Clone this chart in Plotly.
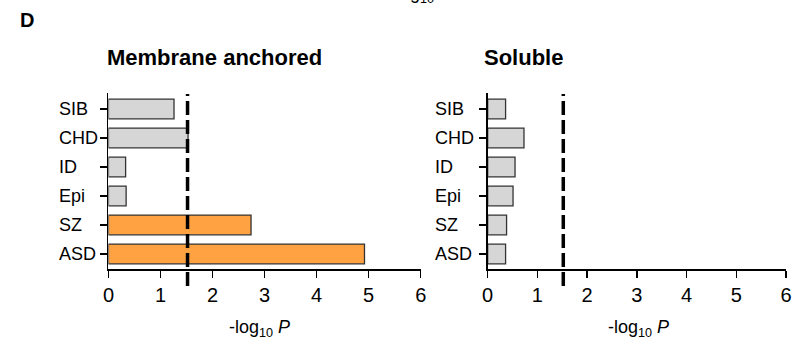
import plotly.graph_objects as go

W, H = 801, 348

categories = ["ASD", "SZ", "Epi", "ID", "CHD", "SIB"]
membrane_values = [4.92, 2.74, 0.34, 0.33, 1.53, 1.26]
membrane_colors = ["#ffa342", "#ffa342", "#d6d6d6", "#d6d6d6", "#d6d6d6", "#d6d6d6"]
soluble_values = [0.36, 0.38, 0.51, 0.55, 0.73, 0.36]
soluble_colors = ["#d6d6d6"] * 6
threshold = 1.52
x_ticks = [0, 1, 2, 3, 4, 5, 6]
panel_titles = ["Membrane anchored", "Soluble"]
panel_letter = "D"
x_title = "-log<sub>10</sub> <i>P</i>"

FONT = "Liberation Sans, Arial, sans-serif"
NARROW = "Liberation Sans Narrow, Arial Narrow, Liberation Sans, sans-serif"

def px_x(p):
    return p / W

def px_y(p):
    return (H - p) / H

left_dom = [px_x(104), px_x(421)]
right_dom = [px_x(489), px_x(792)]
y_dom = [px_y(269), px_y(93)]

fig = go.Figure()
fig.add_trace(go.Bar(
    x=membrane_values, y=categories, orientation="h",
    marker=dict(color=membrane_colors, line=dict(color="#333333", width=1.3)),
    width=0.68, xaxis="x", yaxis="y", showlegend=False, hoverinfo="skip"))
fig.add_trace(go.Bar(
    x=soluble_values, y=categories, orientation="h",
    marker=dict(color=soluble_colors, line=dict(color="#333333", width=1.3)),
    width=0.68, xaxis="x2", yaxis="y2", showlegend=False, hoverinfo="skip"))

axis_common = dict(showline=True, linecolor="black", linewidth=1.6,
                   ticks="outside", ticklen=7, tickwidth=1.4, tickcolor="black",
                   showgrid=False, zeroline=False)

fig.update_layout(
    width=W, height=H,
    margin=dict(l=0, r=0, t=0, b=0),
    paper_bgcolor="white", plot_bgcolor="white",
    font=dict(family=FONT, color="black"),
    bargap=0,
    xaxis=dict(domain=left_dom, range=[0, 6], tickvals=x_ticks,
               tickfont=dict(size=20, family=NARROW), anchor="y", **axis_common),
    yaxis=dict(domain=y_dom, range=[-0.52, 5.55], type="category",
               categoryorder="array", categoryarray=categories,
               showticklabels=False, anchor="x", **axis_common),
    xaxis2=dict(domain=right_dom, range=[0, 6], tickvals=x_ticks,
                tickfont=dict(size=20, family=NARROW), anchor="y2", **axis_common),
    yaxis2=dict(domain=y_dom, range=[-0.52, 5.55], type="category",
                categoryorder="array", categoryarray=categories,
                showticklabels=False, anchor="x2", **axis_common),
)

# threshold dashed lines
for xr in ["x", "x2"]:
    fig.add_shape(type="line", xref=xr, yref="paper",
                  x0=threshold, x1=threshold, y0=px_y(286), y1=px_y(94),
                  line=dict(color="black", width=3.5, dash="14px,5px"), layer="above")

annotations = []
# y category labels, left aligned
for xs, yr in [(52, "y"), (434, "y2")]:
    for c in categories:
        annotations.append(dict(text=c, x=px_x(xs), xref="paper", y=c, yref=yr,
                                xanchor="left", yanchor="middle", showarrow=False,
                                font=dict(size=18, family=FONT)))
# panel titles
annotations.append(dict(text="<b>%s</b>" % panel_titles[0], x=px_x(100), xref="paper",
                        y=px_y(58), yref="paper", xanchor="left", yanchor="middle",
                        showarrow=False, font=dict(size=22, family=FONT)))
annotations.append(dict(text="<b>%s</b>" % panel_titles[1], x=px_x(483), xref="paper",
                        y=px_y(58), yref="paper", xanchor="left", yanchor="middle",
                        showarrow=False, font=dict(size=22, family=FONT)))
annotations.append(dict(text="<b>%s</b>" % panel_letter, x=px_x(21), xref="paper",
                        y=px_y(20), yref="paper", xanchor="center", yanchor="middle",
                        showarrow=False, font=dict(size=20, family=FONT)))
# x titles
for cx in [257, 642]:
    annotations.append(dict(text=x_title, x=px_x(cx), xref="paper", y=px_y(328),
                            yref="paper", xanchor="center", yanchor="middle",
                            showarrow=False, font=dict(size=18, family=NARROW)))
# clipped remnant of an axis title from the panel above
annotations.append(dict(text=x_title, x=px_x(388), xref="paper", y=px_y(-5),
                        yref="paper", xanchor="left", yanchor="middle",
                        showarrow=False, font=dict(size=18, family=NARROW)))
fig.update_layout(annotations=annotations)

fig.write_html("out.html",
               config={"displayModeBar": False, "staticPlot": True},
               post_script="document.body.style.margin='0px';document.body.style.padding='0px';")
